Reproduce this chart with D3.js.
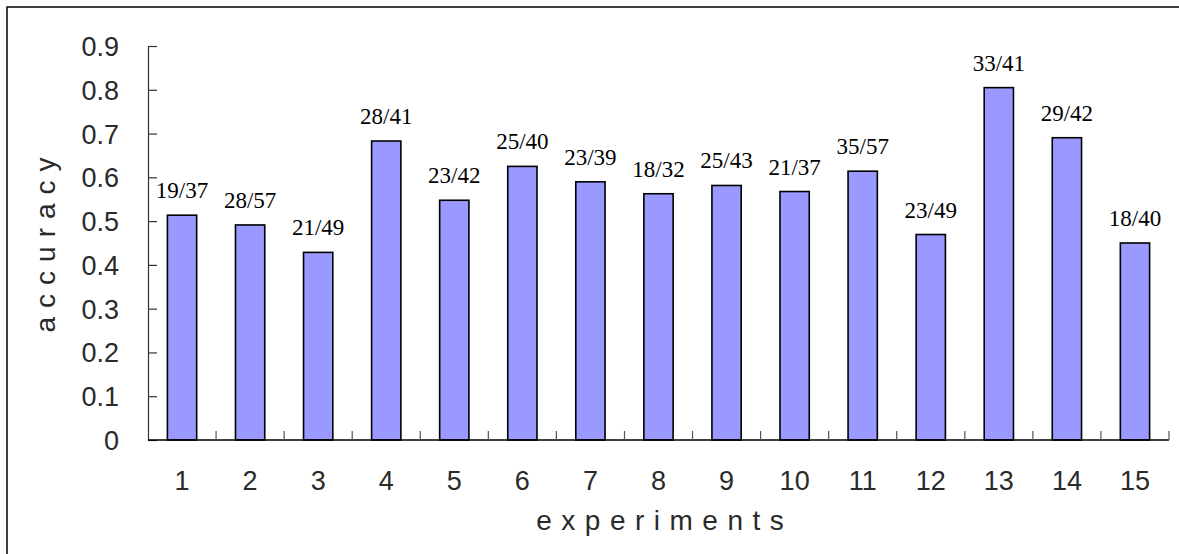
<!DOCTYPE html>
<html>
<head>
<meta charset="utf-8">
<script src="https://cdn.jsdelivr.net/npm/d3@7"></script>
<style>
  html, body { margin: 0; padding: 0; background: #fff; }
  svg { display: block; }
</style>
</head>
<body>
<svg id="chart" width="1179" height="554"></svg>
<script>
// Experiment results: correct answers out of total questions
const experiments = ["1","2","3","4","5","6","7","8","9","10","11","12","13","14","15"];
const correct = [19, 28, 21, 28, 23, 25, 23, 18, 25, 21, 35, 23, 33, 29, 18];
const total   = [37, 57, 49, 41, 42, 40, 39, 32, 43, 37, 57, 49, 41, 42, 40];
const yTicks  = [0, 0.1, 0.2, 0.3, 0.4, 0.5, 0.6, 0.7, 0.8, 0.9];

const accuracy = correct.map((c, i) => c / total[i]);

const svg = d3.select("#chart");
const sans = "'Liberation Sans', Arial, sans-serif";
const serif = "'Liberation Serif', 'Times New Roman', serif";

// outer frame
svg.append("rect")
  .attr("x", 7).attr("y", 7)
  .attr("width", 1200).attr("height", 600)
  .attr("fill", "none").attr("stroke", "#000").attr("stroke-width", 1.5);

const plotLeft = 148, plotRight = 1169, plotTop = 46, plotBottom = 440;

const x = d3.scaleBand()
  .domain(experiments)
  .range([plotLeft, plotRight])
  .paddingInner(0.57)
  .paddingOuter(0.285);

const y = d3.scaleLinear().domain([0, 0.9]).range([plotBottom, plotTop]);

// y axis with ticks pointing into the plot
const yAxis = svg.append("g")
  .attr("transform", `translate(${plotLeft},0)`)
  .call(d3.axisRight(y).tickValues(yTicks).tickSize(9).tickSizeOuter(0).tickFormat(""));
yAxis.select(".domain").attr("stroke", "#333").attr("stroke-width", 1.2);
yAxis.selectAll(".tick line").attr("stroke", "#333").attr("stroke-width", 1.2);

svg.append("g").selectAll("text")
  .data(yTicks)
  .join("text")
  .attr("x", 119)
  .attr("y", d => y(d) + 10)
  .attr("text-anchor", "end")
  .attr("font-family", sans)
  .attr("font-size", 27)
  .attr("fill", "#2a2a2a")
  .text(d => d === 0 ? "0" : d3.format(".1f")(d));

// bars
svg.append("g").selectAll("rect")
  .data(experiments)
  .join("rect")
  .attr("x", d => x(d))
  .attr("y", (d, i) => y(accuracy[i]))
  .attr("width", x.bandwidth())
  .attr("height", (d, i) => plotBottom - y(accuracy[i]))
  .attr("fill", "#9999ff")
  .attr("stroke", "#000")
  .attr("stroke-width", 1.6);

// value labels
svg.append("g").selectAll("text")
  .data(experiments)
  .join("text")
  .attr("x", d => x(d) + x.bandwidth() / 2)
  .attr("y", (d, i) => y(accuracy[i]) - 17)
  .attr("text-anchor", "middle")
  .attr("font-family", serif)
  .attr("font-size", 23)
  .attr("fill", "#000")
  .text((d, i) => `${correct[i]}/${total[i]}`);

// x axis: baseline plus category separators pointing up
const step = x.step();
const sepPositions = d3.range(1, experiments.length + 1).map(i => plotLeft + step * i);
svg.append("line")
  .attr("x1", plotLeft).attr("x2", plotRight)
  .attr("y1", plotBottom).attr("y2", plotBottom)
  .attr("stroke", "#000").attr("stroke-width", 1.5);
svg.append("g").selectAll("line")
  .data(sepPositions)
  .join("line")
  .attr("x1", d => d).attr("x2", d => d)
  .attr("y1", plotBottom).attr("y2", plotBottom - 9)
  .attr("stroke", "#555").attr("stroke-width", 1.2);

svg.append("g").selectAll("text")
  .data(experiments)
  .join("text")
  .attr("x", d => x(d) + x.bandwidth() / 2)
  .attr("y", 490)
  .attr("text-anchor", "middle")
  .attr("font-family", sans)
  .attr("font-size", 27)
  .attr("fill", "#2a2a2a")
  .text(d => d);

// axis titles
const spacing = 9.5;
svg.append("text")
  .attr("x", 660 + spacing / 2)
  .attr("y", 530)
  .attr("text-anchor", "middle")
  .attr("font-family", sans)
  .attr("font-size", 28)
  .attr("letter-spacing", spacing)
  .attr("fill", "#2a2a2a")
  .text("experiments");

svg.append("text")
  .attr("transform", `translate(55,${236 + 4.5}) rotate(-90)`)
  .attr("text-anchor", "middle")
  .attr("font-family", sans)
  .attr("font-size", 28)
  .attr("letter-spacing", 9)
  .attr("fill", "#2a2a2a")
  .text("accuracy");
</script>
</body>
</html>
